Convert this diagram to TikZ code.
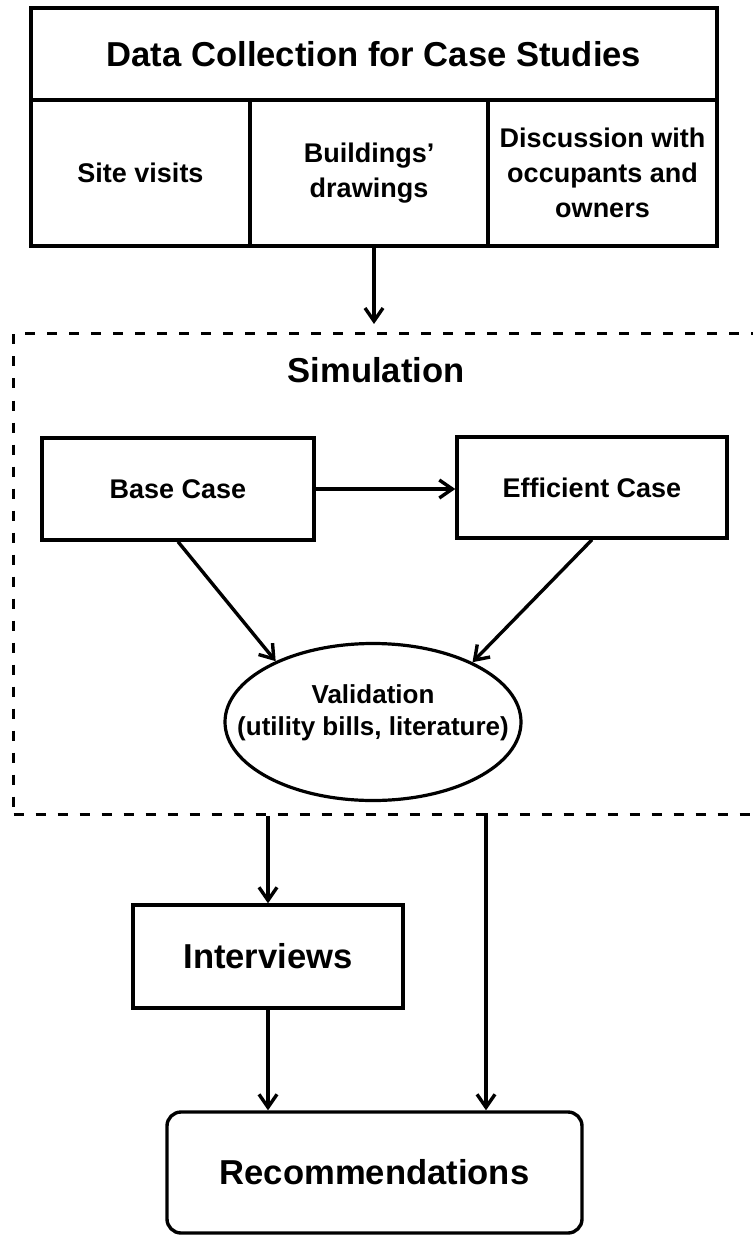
\documentclass[tikz,border=0pt]{standalone}
\usepackage{fontspec}
\setmainfont{Liberation Sans}
\usetikzlibrary{fit,shapes.geometric,arrows.meta}

\begin{document}
\begin{tikzpicture}[x=0.5pt,y=0.5pt,font=\bfseries\fontsize{13.5}{17.5}\selectfont,cell/.style={draw=black,line width=1.7pt,inner sep=2pt,align=center},largetext/.style={font=\bfseries\fontsize{17.3}{21}\selectfont},flow/.style={draw=black,line width=1.7pt,-{Straight Barb[length=6.5pt,width=9pt]}}]
\useasboundingbox (0,0) rectangle (752,-1235);
\node[cell,largetext,minimum width=343pt,minimum height=46pt] (header-0) at (374,-54) {Data Collection for Case Studies};
\node[cell,minimum width=109.5pt,minimum height=73pt] (column-0-0) at (140.5,-173) {Site visits};
\node[cell,minimum width=119pt,minimum height=73pt] (column-0-1) at (369,-173) {Buildings'\\drawings};
\node[cell,minimum width=114.5pt,minimum height=73pt] (column-0-2) at (602.5,-173) {Discussion with\\occupants and\\owners};
\node[fit=(header-0) (column-0-0) (column-0-1) (column-0-2),inner sep=0pt] (table-0) {};
\node[draw=black,line width=1.5pt,dash pattern=on 5pt off 6pt,anchor=north west,minimum width=380pt,minimum height=240.5pt,inner sep=0pt] (frame-0) at (12,-332) {};
\node[largetext] (frame-title-0) at (376,-370) {Simulation};
\node[cell,minimum width=136pt,minimum height=51pt] (case-0-0) at (178,-489) {Base Case};
\node[cell,minimum width=135pt,minimum height=50.5pt] (case-0-1) at (592,-487.5) {Efficient Case};
\node[ellipse,draw=black,line width=1.6pt,minimum width=148pt,minimum height=78.5pt,inner sep=0pt] (check-0) at (373,-722) {};
\node[align=center,font=\bfseries\fontsize{13}{16}\selectfont] (check-label-0) at (373,-713) {Validation\\(utility bills, literature)};
\node[cell,largetext,minimum width=135pt,minimum height=51.5pt] (interviews-0) at (268,-956.5) {Interviews};
\node[cell,largetext,rounded corners=7pt,minimum width=207.5pt,minimum height=60.5pt] (outcome-0) at (374.5,-1172.5) {Recommendations};
\coordinate (exit-0-1) at (486,-813);
\draw[flow,shorten >=4pt] (table-0.south) -- (table-0.south |- frame-0.north);
\draw[flow] (case-0-0.east) -- (case-0-0.east -| case-0-1.west);
\draw[flow] (case-0-0.south) -- (check-0.148);
\draw[flow] (case-0-1.south) -- (check-0.31);
\draw[flow] (interviews-0.north |- frame-0.south) -- (interviews-0.north);
\draw[flow] (interviews-0.south) -- (interviews-0.south |- outcome-0.north);
\draw[flow] (exit-0-1) -- (exit-0-1 |- outcome-0.north);
\end{tikzpicture}
\end{document}
